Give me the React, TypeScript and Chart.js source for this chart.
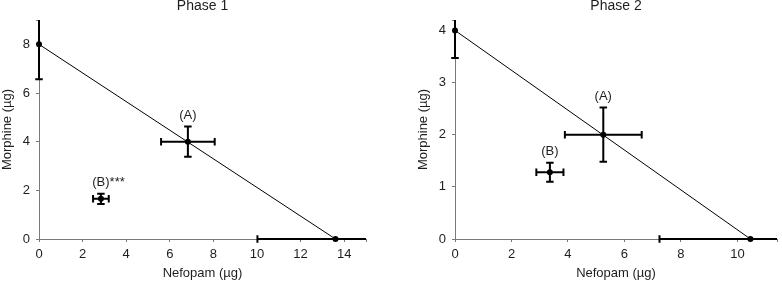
import React, { useEffect, useRef } from "react";
import { Chart, registerables } from "chart.js";

Chart.register(...registerables);

// ---------- Data ----------
const pointNames = ["Morphine alone", "Nefopam alone", "(A)", "(B)"];

// Phase 1
const p1Title = "Phase 1";
const p1Nefopam = [0, 13.6, 6.83, 2.84];
const p1NefopamErr = [0, 3.58, 1.23, 0.36];
const p1Morphine = [8, 0, 4, 1.65];
const p1MorphineErr = [1.44, 0, 0.62, 0.21];
const p1Labels = ["", "", "(A)", "(B)"];
const p1Suffix = ["", "", "", "***"];
const p1XTicks = [0, 2, 4, 6, 8, 10, 12, 14];
const p1XMax = 15;
const p1YTicks = [0, 2, 4, 6, 8];
const p1YMax = 9;

// Phase 2
const p2Title = "Phase 2";
const p2Nefopam = [0, 10.46, 5.25, 3.36];
const p2NefopamErr = [0, 3.22, 1.36, 0.48];
const p2Morphine = [4, 0, 2, 1.28];
const p2MorphineErr = [0.53, 0, 0.52, 0.18];
const p2Labels = ["", "", "(A)", "(B)"];
const p2Suffix = ["", "", "", ""];
const p2XTicks = [0, 2, 4, 6, 8, 10];
const p2XMax = 11.4;
const p2YTicks = [0, 1, 2, 3, 4];
const p2YMax = 4.2;

const xAxisTitle = "Nefopam (µg)";
const yAxisTitle = "Morphine (µg)";

// ---------- Style ----------
const FONT = "'Liberation Sans', Arial, Helvetica, sans-serif";
const TEXT = "#1e1e1e";
const AXIS = "#7a7a7a";

type PhaseData = {
  title: string;
  nef: number[];
  nefErr: number[];
  mor: number[];
  morErr: number[];
  labels: string[];
  suffix: string[];
  xTicks: number[];
  xMax: number;
  yTicks: number[];
  yMax: number;
};

const errorBarPlugin = {
  id: "errorBars",
  afterDatasetsDraw(chart: any, _args: any, opts: any) {
    const d: PhaseData = opts.data;
    if (!d) return;
    const { ctx, chartArea, scales } = chart;
    const xs = scales.x;
    const ys = scales.y;
    const cap = 3.75;
    ctx.save();
    ctx.beginPath();
    ctx.rect(
      chartArea.left - 8,
      chartArea.top,
      chartArea.right - chartArea.left + 8,
      chartArea.bottom - chartArea.top + 8
    );
    ctx.clip();
    ctx.strokeStyle = "#000";
    ctx.lineWidth = 2;
    ctx.lineCap = "butt";
    for (let i = 0; i < d.nef.length; i++) {
      const px = xs.getPixelForValue(d.nef[i]);
      const py = ys.getPixelForValue(d.mor[i]);
      if (d.nefErr[i] > 0) {
        const x1 = xs.getPixelForValue(d.nef[i] - d.nefErr[i]);
        const x2 = xs.getPixelForValue(d.nef[i] + d.nefErr[i]);
        ctx.beginPath();
        ctx.moveTo(x1, py);
        ctx.lineTo(x2, py);
        ctx.moveTo(x1, py - cap);
        ctx.lineTo(x1, py + cap);
        ctx.moveTo(x2, py - cap);
        ctx.lineTo(x2, py + cap);
        ctx.stroke();
      }
      if (d.morErr[i] > 0) {
        const y1 = ys.getPixelForValue(d.mor[i] - d.morErr[i]);
        const y2 = ys.getPixelForValue(d.mor[i] + d.morErr[i]);
        ctx.beginPath();
        ctx.moveTo(px, y1);
        ctx.lineTo(px, y2);
        ctx.moveTo(px - cap, y1);
        ctx.lineTo(px + cap, y1);
        ctx.moveTo(px - cap, y2);
        ctx.lineTo(px + cap, y2);
        ctx.stroke();
      }
    }
    ctx.restore();

    // labels
    ctx.save();
    ctx.font = `13px ${FONT}`;
    ctx.fillStyle = TEXT;
    ctx.textBaseline = "middle";
    ctx.textAlign = "left";
    for (let i = 0; i < d.nef.length; i++) {
      const lab = d.labels[i];
      if (!lab) continue;
      const px = xs.getPixelForValue(d.nef[i]);
      const top = ys.getPixelForValue(d.mor[i] + d.morErr[i]);
      const w = ctx.measureText(lab).width;
      ctx.fillText(lab + d.suffix[i], px - w / 2, top - 11.5);
    }
    ctx.restore();
  },
};

function makeConfig(d: PhaseData, padLeft: number, padRight: number) {
  const tickFont = { family: FONT, size: 13, lineHeight: 1.2 };
  const pts = d.nef.map((x, i) => ({ x, y: d.mor[i] }));
  const lineData = [
    { x: d.nef[0], y: d.mor[0] },
    { x: d.nef[1], y: d.mor[1] },
  ];
  return {
    type: "scatter" as const,
    data: {
      datasets: [
        {
          type: "line" as const,
          label: "Additive line",
          data: lineData,
          borderColor: "#000",
          borderWidth: 1,
          pointRadius: 0,
          fill: false,
          clip: false,
          order: 2,
        },
        {
          type: "scatter" as const,
          label: pointNames.join(", "),
          data: pts,
          backgroundColor: "#000",
          borderColor: "#000",
          pointRadius: 3,
          borderWidth: 0,
          clip: false,
          order: 1,
        },
      ],
    },
    options: {
      responsive: false,
      animation: false,
      devicePixelRatio: 1,
      layout: { padding: { left: padLeft, right: padRight, top: 0, bottom: 0 } },
      plugins: {
        legend: { display: false },
        tooltip: { enabled: false },
        title: {
          display: true,
          text: d.title,
          fullSize: false,
          color: TEXT,
          font: { family: FONT, size: 14, weight: "normal", lineHeight: 1.2 },
          padding: { top: -2.4, bottom: 5.6 },
        },
        errorBars: { data: d },
      },
      scales: {
        x: {
          type: "linear",
          min: 0,
          max: d.xMax,
          afterBuildTicks: (s: any) => {
            s.ticks = [...d.xTicks, d.xMax].map((v) => ({ value: v }));
          },
          afterFit: (s: any) => {
            s.height = 44;
          },
          ticks: {
            autoSkip: false,
            maxRotation: 0,
            padding: 5,
            color: TEXT,
            font: tickFont,
            callback: (v: any) => (d.xTicks.includes(v) ? String(v) : ""),
          },
          grid: { drawOnChartArea: false, drawTicks: true, tickLength: 3, color: AXIS },
          border: { color: AXIS, width: 1 },
          title: {
            display: true,
            text: xAxisTitle,
            color: TEXT,
            font: tickFont,
            padding: { top: 0, bottom: 2 },
          },
        },
        y: {
          type: "linear",
          min: 0,
          max: d.yMax,
          afterBuildTicks: (s: any) => {
            s.ticks = [...d.yTicks, d.yMax].map((v) => ({ value: v }));
          },
          afterFit: (s: any) => {
            s.width = 39;
          },
          ticks: {
            autoSkip: false,
            padding: 6,
            color: TEXT,
            font: tickFont,
            callback: (v: any) => (d.yTicks.includes(v) ? String(v) : ""),
          },
          grid: { drawOnChartArea: false, drawTicks: true, tickLength: 3, color: AXIS },
          border: { color: AXIS, width: 1 },
          title: {
            display: true,
            text: yAxisTitle,
            color: TEXT,
            font: tickFont,
            padding: { top: 0, bottom: 0 },
          },
        },
      },
    },
    plugins: [errorBarPlugin],
  };
}

function PhaseChart(props: { d: PhaseData; left: number; padLeft: number; padRight: number }) {
  const ref = useRef<HTMLCanvasElement | null>(null);
  useEffect(() => {
    if (!ref.current) return;
    const chart = new Chart(ref.current, makeConfig(props.d, props.padLeft, props.padRight) as any);
    return () => chart.destroy();
  }, []);
  return (
    <div style={{ position: "absolute", left: props.left, top: 0, width: 391, height: 283 }}>
      <canvas ref={ref} width={391} height={283} style={{ width: 391, height: 283, display: "block" }} />
    </div>
  );
}

const phase1: PhaseData = {
  title: p1Title,
  nef: p1Nefopam,
  nefErr: p1NefopamErr,
  mor: p1Morphine,
  morErr: p1MorphineErr,
  labels: p1Labels,
  suffix: p1Suffix,
  xTicks: p1XTicks,
  xMax: p1XMax,
  yTicks: p1YTicks,
  yMax: p1YMax,
};

const phase2: PhaseData = {
  title: p2Title,
  nef: p2Nefopam,
  nefErr: p2NefopamErr,
  mor: p2Morphine,
  morErr: p2MorphineErr,
  labels: p2Labels,
  suffix: p2Suffix,
  xTicks: p2XTicks,
  xMax: p2XMax,
  yTicks: p2YTicks,
  yMax: p2YMax,
};

export default function App() {
  return (
    <div style={{ position: "absolute", left: 0, top: 0, width: 782, height: 283, background: "#fff" }}>
      <PhaseChart d={phase1} left={0} padLeft={0} padRight={25} />
      <PhaseChart d={phase2} left={391} padLeft={25} padRight={3} />
    </div>
  );
}
